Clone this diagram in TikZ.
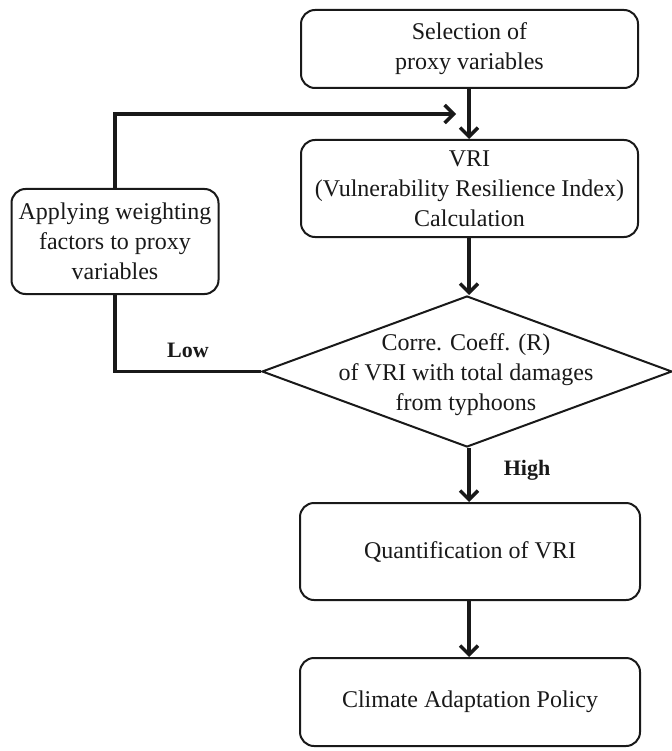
\documentclass[tikz,border=0pt]{standalone}
\usepackage{fontspec}
\setmainfont{Liberation Serif}
\usetikzlibrary{shapes.geometric,arrows.meta}
\begin{document}
\begin{tikzpicture}[x=1pt,y=-1pt,
  txt/.style={font=\fontsize{24}{30}\selectfont, text=black!90, align=center},
  box/.style={txt, draw=black!90, line width=2pt, rounded corners=14pt, inner sep=2pt},
  dec/.style={draw=black!90, diamond, line width=2pt, inner sep=0pt},
  conn/.style={line width=3.4pt, draw=black!90},
  arr/.style={conn, -{Straight Barb[length=9pt,width=18pt]}},
  lab/.style={font=\fontsize{22}{24}\selectfont\bfseries, text=black!90}
]
\useasboundingbox[fill=white] (0,0) rectangle (671,751);

\node[box, minimum width=337pt, minimum height=78pt] (sel) at (469.5,49) {Selection of\\proxy variables};
\node[box, minimum width=337pt, minimum height=97pt] (vri) at (469.5,188.5) {VRI\\(Vulnerability Resilience Index)\\Calculation};
\node[box, minimum width=207pt, minimum height=105pt] (app) at (115,241.5) {Applying weighting\\factors to proxy\\variables};
\node[dec, minimum width=410pt, minimum height=151pt] (dia) at (467,371.5) {};
\node[txt] (diatext) at (466,375) {Corre. Coeff. (R)\\of VRI with total damages\\from typhoons};
\node[box, minimum width=340pt, minimum height=97pt] (qua) at (470,551.5) {Quantification of VRI};
\node[box, minimum width=340pt, minimum height=88pt] (cli) at (470,702) {Climate Adaptation Policy};

\node[lab] (low) at (188,350) {Low};
\node[lab] (high) at (527,470) {High};

\coordinate (fb) at (456,114);

\draw[arr] (sel.south -| 469,0) -- (vri.north -| 469,0);
\draw[arr] (app.north) |- (fb);
\draw[arr] (vri.south -| 469,0) -- (dia.north -| 469,0);
\draw[conn] (dia.west) -| (app.south);
\draw[arr] (dia.south -| 469,0) -- (qua.north -| 469,0);
\draw[arr] (qua.south -| 469,0) -- (cli.north -| 469,0);
\end{tikzpicture}
\end{document}
